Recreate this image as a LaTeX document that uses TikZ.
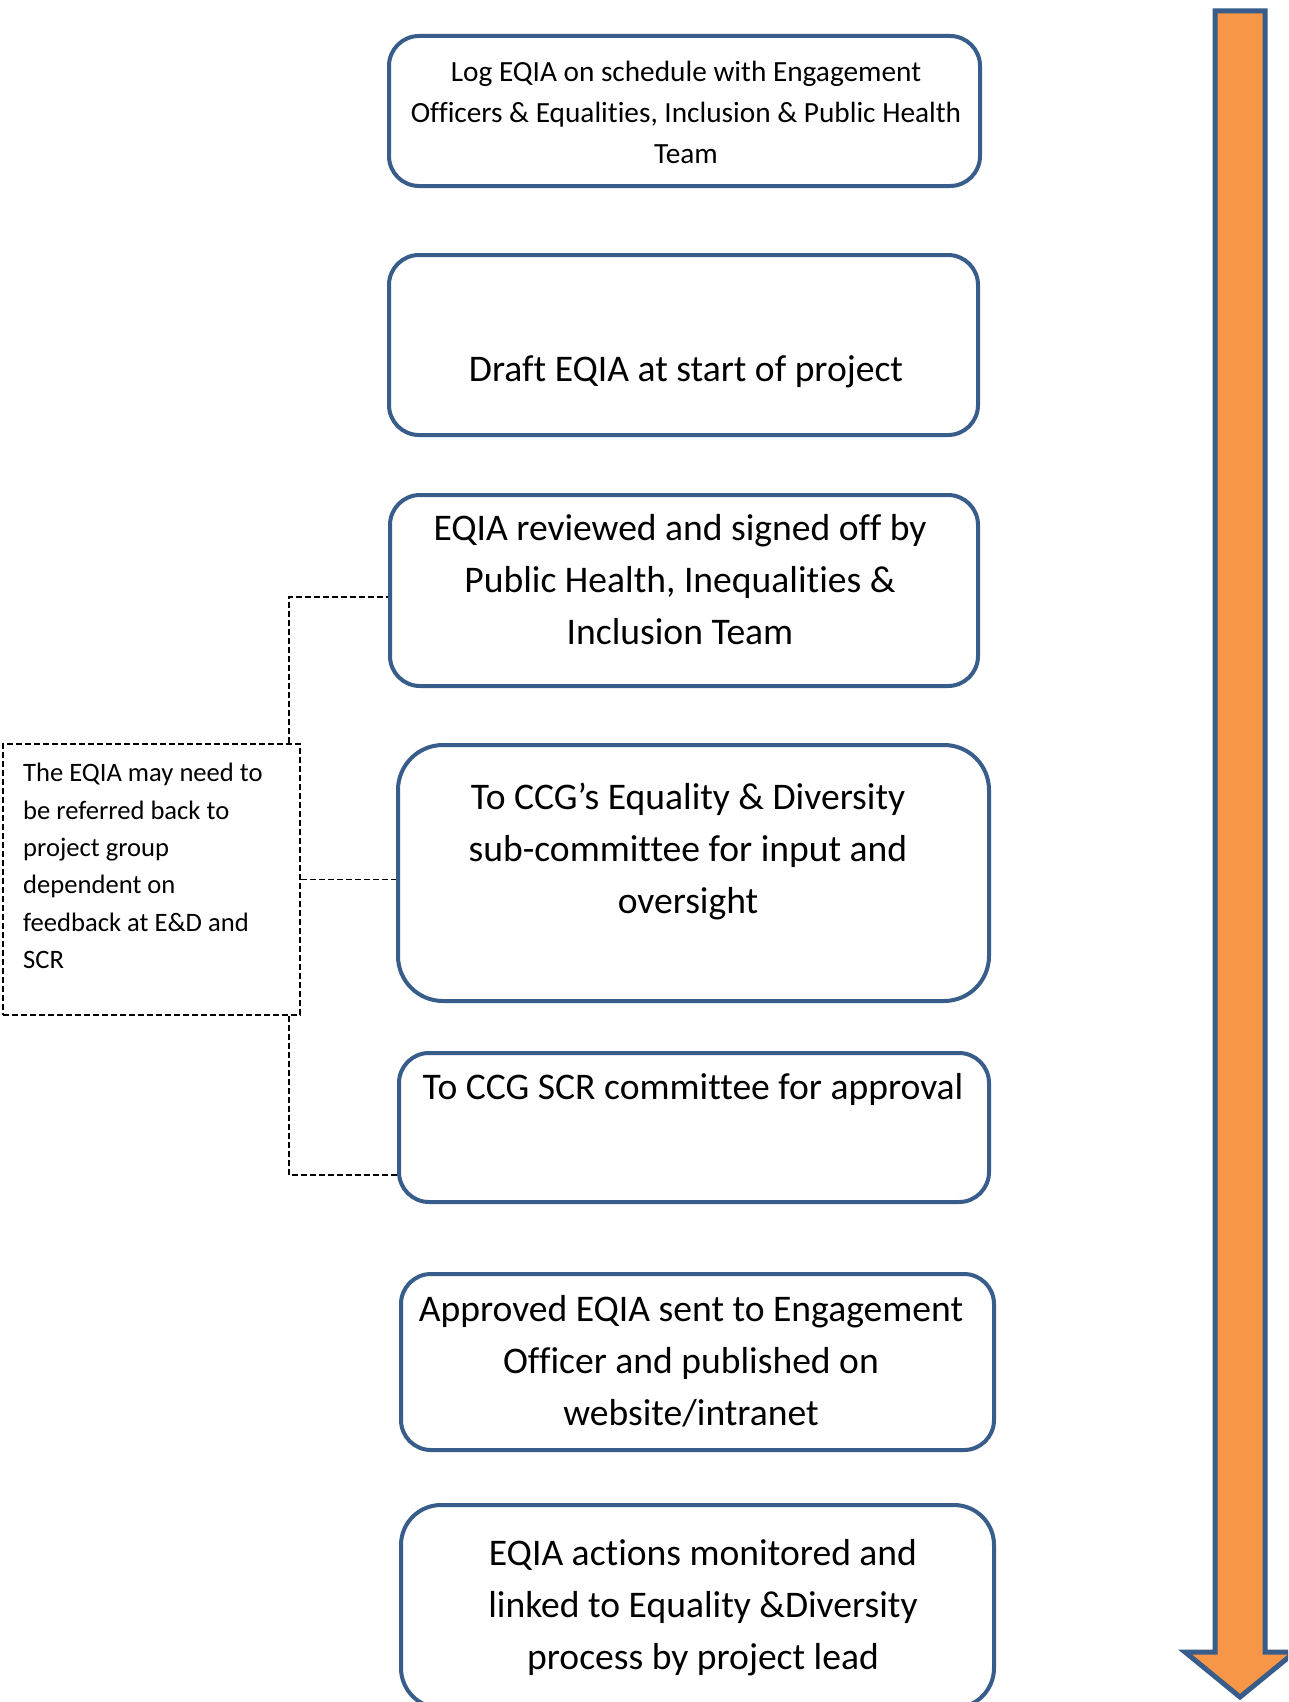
\documentclass[tikz,border=0pt]{standalone}
\usepackage{fontspec}
\setmainfont{Carlito}[Ligatures={NoCommon}]
\definecolor{boxblue}{RGB}{56,93,138}
\definecolor{arroworange}{RGB}{247,150,70}
\begin{document}
\begin{tikzpicture}[x=1pt,y=-1pt,
  stepbox/.style={draw=boxblue,line width=4pt,rounded corners=30pt,inner sep=0pt,fill=white},
  steptext/.style={align=center,inner sep=0pt,text=black},
  notebox/.style={draw=black,line width=1.6pt,dash pattern=on 6pt off 3pt,inner sep=0pt},
  dashline/.style={draw=black,line width=1.6pt,dash pattern=on 6pt off 3pt},
  bigarrow/.style={draw=boxblue,line width=5pt,fill=arroworange,line join=miter}]
\clip (0,0) rectangle (1288,1702);
\fill[white] (0,0) rectangle (1288,1702);

% arrow
\draw[bigarrow] (1215,11) -- (1265,11) -- (1265,1652) -- (1295,1652) -- (1240,1697) -- (1185,1652) -- (1215,1652) -- cycle;

% boxes
\node[stepbox,minimum width=591pt,minimum height=150pt] (b1) at (684.5,111) {};
\node[stepbox,minimum width=589pt,minimum height=180pt] (b2) at (683.5,345) {};
\node[stepbox,minimum width=588pt,minimum height=191pt] (b3) at (684,590.5) {};
\node[stepbox,minimum width=591pt,minimum height=256pt,rounded corners=45pt] (b4) at (693.5,873) {};
\node[stepbox,minimum width=590pt,minimum height=149pt] (b5) at (694,1127.5) {};
\node[stepbox,minimum width=593pt,minimum height=176pt] (b6) at (697.5,1362) {};
\node[stepbox,minimum width=593pt,minimum height=203pt,rounded corners=40pt] (b7) at (697.5,1606.5) {};

% texts
\node[steptext,font=\fontsize{29.3}{41}\selectfont] (t1) at (686,112) {Log EQIA on schedule with Engagement\\Officers \& Equalities, Inclusion \& Public Health\\Team};
\node[steptext,font=\fontsize{37.6}{52}\selectfont] (t2) at (686,372) {Draft EQIA at start of project};
\node[steptext,font=\fontsize{37.6}{52}\selectfont] (t3) at (680,580) {EQIA reviewed and signed off by\\Public Health, Inequalities \&\\Inclusion Team};
\node[steptext,font=\fontsize{37.6}{52}\selectfont] (t4) at (688,851) {To CCG’s Equality \& Diversity\\sub-committee for input and\\oversight};
\node[steptext,font=\fontsize{37.6}{52}\selectfont] (t5) at (693,1089) {To CCG SCR committee for approval};
\node[steptext,font=\fontsize{37.6}{52}\selectfont] (t6) at (691,1361) {Approved EQIA sent to Engagement\\Officer and published on\\website/intranet};
\node[steptext,font=\fontsize{37.6}{52}\selectfont] (t7) at (703,1608) {EQIA actions monitored and\\linked to Equality \&Diversity\\process by project lead};

% note
\node[notebox,minimum width=297pt,minimum height=271pt] (note) at (151.5,879.5) {};
\node[align=left,inner sep=0pt,anchor=north west,font=\fontsize{26.6}{37.4}\selectfont] (nt) at (23,763) {The EQIA may need to\\be referred back to\\project group\\dependent on\\feedback at E\&D and\\SCR};

% dashed connectors
\draw[dashline] ([xshift=-12pt]note.north east) |- ([yshift=-6.5pt]b3.west);
\draw[dashline] (note.east) -- (note.east -| b4.west);
\draw[dashline] ([xshift=-12pt]note.south east) |- ([yshift=-47.5pt]b5.west);
\end{tikzpicture}
\end{document}
